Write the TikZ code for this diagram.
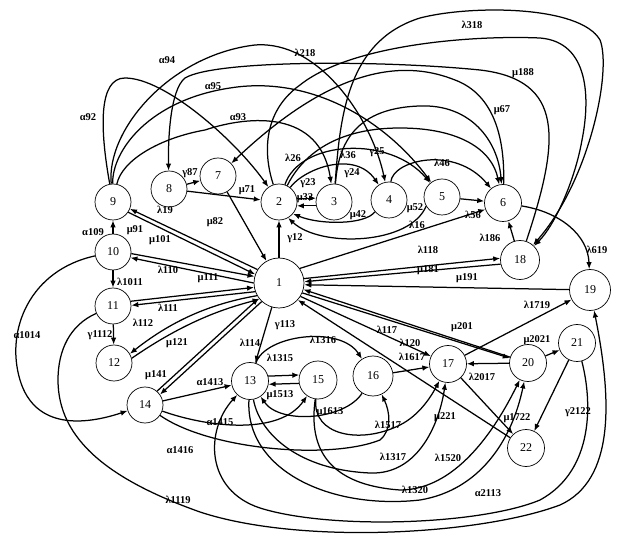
\documentclass[tikz,border=0pt]{standalone}
\usepackage{fontspec}
\setmainfont{Liberation Serif}
\usetikzlibrary{arrows.meta}
\tikzset{
  nd/.style={circle,draw,line width=0.7pt,minimum size=36pt,inner sep=0pt,font=\fontsize{12}{12}\selectfont},
  ed/.style={line width=1.25pt,-{Latex[length=7pt,width=5.5pt]}},
  lb/.style={font=\fontsize{10.5}{11}\selectfont\bfseries,inner sep=0pt},
}
\begin{document}
\begin{tikzpicture}[x=1pt,y=-1pt]
\useasboundingbox (0,0) rectangle (621,534);
% nodes
\node[nd,minimum size=50pt] (n1) at (279,283) {1};
\node[nd] (n2) at (279,202) {2};
\node[nd] (n3) at (334,202) {3};
\node[nd] (n4) at (389,200) {4};
\node[nd] (n5) at (442,197) {5};
\node[nd,minimum size=37pt] (n6) at (503,203) {6};
\node[nd] (n7) at (218,176) {7};
\node[nd] (n8) at (169,189) {8};
\node[nd] (n9) at (113,202) {9};
\node[nd] (n10) at (113,252) {10};
\node[nd] (n11) at (113,306) {11};
\node[nd] (n12) at (114,363) {12};
\node[nd,minimum size=37pt] (n13) at (250,381) {13};
\node[nd] (n14) at (145,405) {14};
\node[nd,minimum size=38pt] (n15) at (318,380) {15};
\node[nd,minimum size=40pt] (n16) at (373,376) {16};
\node[nd,minimum size=37pt] (n17) at (448,364) {17};
\node[nd,minimum size=39pt] (n18) at (520,260) {18};
\node[nd,minimum size=41pt] (n19) at (590,290) {19};
\node[nd,minimum size=37pt] (n20) at (528,363) {20};
\node[nd,minimum size=37pt] (n21) at (577,343) {21};
\node[nd,minimum size=37pt] (n22) at (526,448) {22};
% top curves
\draw[ed] (n9) .. controls (100,130) and (98,78) .. (125,78) .. controls (165,78) and (235,140) .. (n2);
\draw[ed] (n9) .. controls (122,160) and (160,138) .. (205,130) .. controls (250,115) and (320,110) .. (n3);
\draw[ed] (n9) .. controls (106,130) and (170,55) .. (255,45) .. controls (320,40) and (372,120) .. (n4);
\draw[ed] (n9) .. controls (112,150) and (150,100) .. (230,88) .. controls (310,75) and (385,120) .. (n5);
\draw[ed] (n18) .. controls (560,140) and (565,80) .. (480,70) .. controls (380,60) and (215,60) .. (185,78) .. controls (170,90) and (168,140) .. (n8);
\draw[ed] (n2) .. controls (262,150) and (265,110) .. (300,85) .. controls (350,45) and (470,35) .. (540,38) .. controls (590,42) and (590,100) .. (582,140) .. controls (575,180) and (555,225) .. (n18);
\draw[ed] (n3) .. controls (340,110) and (350,40) .. (420,18) .. controls (470,5) and (580,5) .. (600,40) .. controls (612,70) and (590,180) .. (n18);
\draw[ed] (n6) .. controls (505,140) and (495,95) .. (455,80) .. controls (410,62) and (340,60) .. (n7);
\draw[ed] (n2) .. controls (300,160) and (330,128) .. (400,128) .. controls (460,128) and (492,150) .. (n6);
\draw[ed] (n3) .. controls (338,150) and (350,108) .. (420,106) .. controls (470,104) and (498,140) .. (n6);
\draw[ed] (n2) .. controls (300,140) and (390,135) .. (n5);
\draw[ed] (n2) .. controls (305,168) and (355,150) .. (n4);
\draw[ed] (n4) .. controls (393,160) and (455,145) .. (n6);
\draw[ed] (n2.12) -- (n3.168);
\draw[ed] (n3.192) -- (n2.348);
\draw[ed] (n4.220) .. controls (365,225) and (320,225) .. (n2.320);
\draw[ed] (n5.210) .. controls (410,245) and (320,248) .. (n2.300);
\draw[ed] (n5) -- (n6);
% right side
\draw[ed] (n1.35) -- (n6.200);
\draw[ed] (n18) -- (n6);
\draw[ed] (n6) .. controls (560,212) and (588,235) .. (n19);
\draw[ed] (n1.10) -- (n18.175);
\draw[ed] (n18.192) -- (n1.3);
\draw[ed] (n19) -- (n1.356);
\draw[ed] (n17) -- (n19);
\draw[ed] (n20) -- (n1.345);
\draw[ed] (n1.337) -- (n20.165);
\draw[ed] (n1.328) -- (n17);
\draw[ed] (n22) -- (n1.318);
\draw[ed] (n16) -- (n17);
\draw[ed] (n20) -- (n17);
\draw[ed] (n20) -- (n21);
\draw[ed] (n21) -- (n22);
\draw[ed] (n17) -- (n22);
% left side
\draw[ed] (n1) -- (n2);
\draw[ed] (n7) -- (n1);
\draw[ed] (n8) -- (n2);
\draw[ed] (n8) -- (n7);
\draw[ed] (n1.148) -- (n9.-22);
\draw[ed] (n9.-34) -- (n1.160);
\draw[ed] (n10.-5) -- (n1.165);
\draw[ed] (n1.180) -- (n10.-18);
\draw[ed] (n11.15) -- (n1.190);
\draw[ed] (n1.200) -- (n11.2);
\draw[ed] (n1.210) .. controls (215,303) and (175,318) .. (n12.30);
\draw[ed] (n12.15) .. controls (180,325) and (218,310) .. (n1.220);
\draw[ed] (n1.227) -- (n14.35);
\draw[ed] (n14.49) -- (n1.217);
\draw[ed] (n1) -- (n13);
\draw[ed] (n10) -- (n9);
\draw[ed] (n10) -- (n11);
\draw[ed] (n11) -- (n12);
\draw[ed] (n10) .. controls (30,270) and (5,330) .. (20,380) .. controls (35,430) and (85,425) .. (n14);
\draw[ed] (n11) .. controls (70,325) and (58,350) .. (58,380) .. controls (58,440) and (110,480) .. (200,512) .. controls (300,545) and (480,535) .. (560,505) .. controls (615,480) and (612,400) .. (n19);
% bottom
\draw[ed] (n14) -- (n13);
\draw[ed] (n14) .. controls (210,428) and (280,435) .. (n15);
\draw[ed] (n14) .. controls (210,450) and (330,460) .. (380,440) .. controls (392,430) and (390,412) .. (n16);
\draw[ed] (n13.15) -- (n15.165);
\draw[ed] (n15.190) -- (n13.350);
\draw[ed] (n13) .. controls (265,335) and (340,325) .. (n16);
\draw[ed] (n16) .. controls (345,420) and (280,425) .. (n13);
\draw[ed] (n15) .. controls (312,435) and (360,445) .. (400,425) .. controls (420,415) and (432,395) .. (n17);
\draw[ed] (n13) .. controls (260,435) and (300,470) .. (370,473) .. controls (420,475) and (440,420) .. (n17);
\draw[ed] (n15) .. controls (308,450) and (330,485) .. (400,490) .. controls (460,490) and (500,420) .. (n20);
\draw[ed] (n13) .. controls (245,470) and (330,510) .. (420,500) .. controls (480,490) and (512,440) .. (n20);
\draw[ed] (n21) .. controls (592,400) and (595,470) .. (540,500) .. controls (480,525) and (330,530) .. (260,508) .. controls (205,490) and (205,430) .. (n13);
% labels
\node[lb] (t1) at (167,60) {α94};
\node[lb] (t2) at (213,86) {α95};
\node[lb] (t3) at (88,117) {α92};
\node[lb] (t4) at (238,117) {α93};
\node[lb] (t5) at (305,53) {λ218};
\node[lb] (t6) at (472,25) {λ318};
\node[lb] (t7) at (523,73) {μ188};
\node[lb] (t8) at (502,110) {μ67};
\node[lb] (t9) at (293,158) {λ26};
\node[lb] (t10) at (348,155) {λ36};
\node[lb] (t11) at (377,152) {γ25};
\node[lb] (t12) at (442,163) {λ46};
\node[lb] (t13) at (190,173) {γ87};
\node[lb] (t14) at (308,183) {γ23};
\node[lb] (t15) at (352,173) {γ24};
\node[lb] (t16) at (247,190) {μ71};
\node[lb] (t17) at (305,198) {μ32};
\node[lb] (t18) at (358,215) {μ42};
\node[lb] (t19) at (415,208) {μ52};
\node[lb] (t20) at (473,215) {λ56};
\node[lb] (t21) at (417,225) {λ16};
\node[lb] (t22) at (165,210) {λ19};
\node[lb] (t23) at (215,222) {μ82};
\node[lb] (t24) at (135,230) {μ91};
\node[lb] (t25) at (93,232) {α109};
\node[lb] (t26) at (160,240) {μ101};
\node[lb] (t27) at (295,238) {γ12};
\node[lb] (t28) at (490,238) {λ186};
\node[lb] (t29) at (428,250) {λ118};
\node[lb] (t30) at (597,250) {λ619};
\node[lb] (t31) at (168,270) {λ110};
\node[lb] (t32) at (428,270) {μ181};
\node[lb] (t33) at (208,278) {μ111};
\node[lb] (t34) at (467,278) {μ191};
\node[lb] (t35) at (130,282) {λ1011};
\node[lb] (t36) at (168,308) {λ111};
\node[lb] (t37) at (537,305) {λ1719};
\node[lb] (t38) at (285,325) {γ113};
\node[lb] (t39) at (387,330) {λ117};
\node[lb] (t40) at (462,327) {μ201};
\node[lb] (t41) at (143,323) {λ112};
\node[lb] (t42) at (27,335) {α1014};
\node[lb] (t43) at (100,335) {γ1112};
\node[lb] (t44) at (323,340) {λ1316};
\node[lb] (t45) at (410,343) {λ120};
\node[lb] (t46) at (537,340) {μ2021};
\node[lb] (t47) at (177,343) {μ121};
\node[lb] (t48) at (250,343) {λ114};
\node[lb] (t49) at (280,358) {λ1315};
\node[lb] (t50) at (412,357) {λ1617};
\node[lb] (t51) at (156,375) {μ141};
\node[lb] (t52) at (210,382) {α1413};
\node[lb] (t53) at (482,377) {λ2017};
\node[lb] (t54) at (280,395) {μ1513};
\node[lb] (t55) at (330,412) {μ1613};
\node[lb] (t56) at (578,412) {γ2122};
\node[lb] (t57) at (517,418) {μ1722};
\node[lb] (t58) at (445,417) {μ221};
\node[lb] (t59) at (220,422) {α1415};
\node[lb] (t60) at (388,425) {λ1517};
\node[lb] (t61) at (180,450) {α1416};
\node[lb] (t62) at (393,457) {λ1317};
\node[lb] (t63) at (448,458) {λ1520};
\node[lb] (t64) at (415,490) {λ1320};
\node[lb] (t65) at (488,493) {α2113};
\node[lb] (t66) at (178,500) {λ1119};
\end{tikzpicture}
\end{document}
